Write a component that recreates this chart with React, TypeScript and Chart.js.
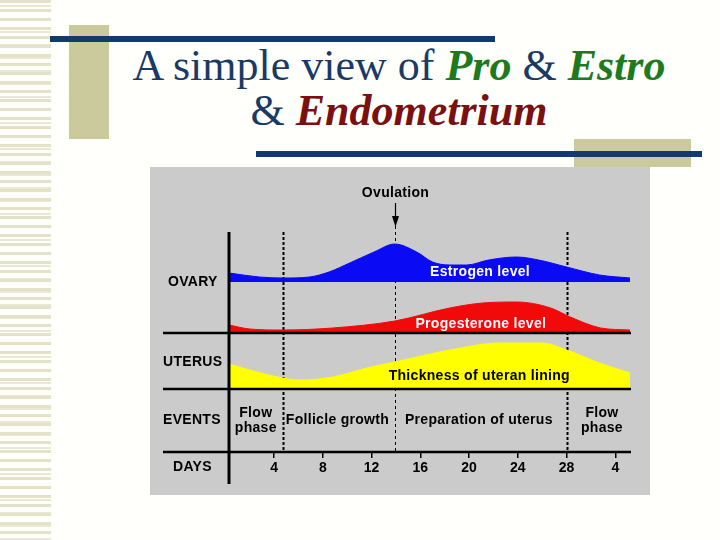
import React, { useEffect, useRef } from "react";
import { Chart, registerables } from "chart.js";

Chart.register(...registerables);

// ---- data (days of cycle, relative levels) ----
const ESTROGEN_DAYS = [0.3, 2.8, 4.7, 6.9, 8.5, 10.2, 12.2, 13.9, 15.7, 17, 18.4, 19.8, 21.6, 23.9, 25.7, 28, 30.7, 33.2];
const ESTROGEN_LEVEL = [9, 5, 4, 5, 10, 19, 30, 38, 30, 20, 17, 17, 22, 25, 22, 15, 7, 4];

const PROGESTERONE_DAYS = [0.3, 2, 4.7, 8.8, 13.9, 18.4, 21.1, 23.9, 26.7, 28.3, 30.8, 33.2];
const PROGESTERONE_LEVEL = [8, 4, 3, 5, 12, 25, 30, 31, 25, 16, 5, 3];

const LINING_DAYS = [0.3, 2, 4.7, 6.1, 8.8, 11.6, 13.9, 18.4, 22.5, 26, 28, 30.7, 33.2];
const LINING_THICKNESS = [25, 19, 11, 9, 12, 21, 27, 39, 46, 46, 39, 26, 16];

const DAY_TICKS = [4, 8, 12, 16, 20, 24, 28, 32];
const DAY_LABELS = ["4", "8", "12", "16", "20", "24", "28", "4"];

const PHASE_LINES = [4.7, 28];
const OVULATION_DAY = 13.9;

const EVENT_LABELS = [["Flow", "phase"], ["Follicle growth"], ["Preparation of uterus"], ["Flow", "phase"]];
const EVENT_CENTERS = [2.5, 9.2, 20.8, 30.9];

const ROW_LABELS = ["OVARY", "UTERUS", "EVENTS", "DAYS"];
const CURVE_LABELS = ["Estrogen level", "Progesterone level", "Thickness of uteran lining"];
const CURVE_LABEL_DAYS = [16.8, 15.6, 13.4];
const CURVE_LABEL_LEVELS = [10, 9, 13];

const FONT = "'Liberation Sans', Arial, sans-serif";

function pts(xs: number[], ys: number[]) {
  return xs.map((x, i) => ({ x, y: ys[i] }));
}

const hiddenBand = (weight: number, max: number) => ({
  type: "linear" as const,
  position: "right" as const,
  stack: "bands",
  stackWeight: weight,
  min: 0,
  max,
  grid: { display: false },
  border: { display: false },
  ticks: { display: false },
  afterFit: (s: any) => {
    s.width = 0;
  },
});

const slidePlugin = {
  id: "slide",
  beforeDraw(chart: any) {
    const { ctx, width, height } = chart;
    ctx.save();
    ctx.fillStyle = "#cbcbcb";
    ctx.fillRect(0, 0, width, height);
    ctx.restore();
  },
  beforeDatasetsDraw(chart: any) {
    const { ctx, chartArea, scales } = chart;
    const x = scales.x;
    ctx.save();
    ctx.strokeStyle = "#000";
    ctx.lineWidth = 2;
    ctx.setLineDash([3, 2]);
    PHASE_LINES.forEach((d) => {
      const px = Math.round(x.getPixelForValue(d)) + 0.5;
      ctx.beginPath();
      ctx.moveTo(px, chartArea.top);
      ctx.lineTo(px, chartArea.bottom);
      ctx.stroke();
    });
    ctx.lineWidth = 1;
    ctx.setLineDash([3, 3]);
    const ox = Math.round(x.getPixelForValue(OVULATION_DAY)) + 0.5;
    ctx.beginPath();
    ctx.moveTo(ox, chartArea.top - 6);
    ctx.lineTo(ox, chartArea.bottom);
    ctx.stroke();
    ctx.restore();
  },
  afterDatasetsDraw(chart: any) {
    const { ctx, chartArea, scales } = chart;
    const x = scales.x;
    const left = 13;
    const right = chartArea.right + 1;
    ctx.save();
    // horizontal separators
    ctx.strokeStyle = "#000";
    ctx.lineWidth = 2.5;
    [scales.yP.bottom, scales.yU.bottom, chartArea.bottom].forEach((y: number) => {
      ctx.beginPath();
      ctx.moveTo(left, y);
      ctx.lineTo(right, y);
      ctx.stroke();
    });
    // vertical axis
    ctx.lineWidth = 3;
    ctx.beginPath();
    ctx.moveTo(chartArea.left, chartArea.top);
    ctx.lineTo(chartArea.left, chartArea.bottom + 32);
    ctx.stroke();

    ctx.font = `bold 14px ${FONT}`;
    try {
      ctx.letterSpacing = "0.3px";
    } catch (e) {}

    // ovulation label + arrow
    const ox = Math.round(x.getPixelForValue(OVULATION_DAY)) + 0.5;
    ctx.fillStyle = "#000";
    ctx.textAlign = "center";
    ctx.textBaseline = "middle";
    ctx.fillText("Ovulation", ox, 26);
    ctx.lineWidth = 1.2;
    ctx.beginPath();
    ctx.moveTo(ox, 36);
    ctx.lineTo(ox, 56);
    ctx.stroke();
    ctx.beginPath();
    ctx.moveTo(ox - 3.5, 49);
    ctx.lineTo(ox + 3.5, 49);
    ctx.lineTo(ox, 60);
    ctx.closePath();
    ctx.fill();

    // curve labels
    ctx.textAlign = "left";
    const bandScales = [scales.yE, scales.yP, scales.yU];
    const colors = ["#ffffff", "#ffffff", "#000000"];
    CURVE_LABELS.forEach((t, i) => {
      ctx.fillStyle = colors[i];
      ctx.fillText(t, x.getPixelForValue(CURVE_LABEL_DAYS[i]), bandScales[i].getPixelForValue(CURVE_LABEL_LEVELS[i]));
    });

    // row labels
    ctx.fillStyle = "#000";
    ctx.fillText(ROW_LABELS[0], 18, scales.yE.bottom);
    ctx.fillText(ROW_LABELS[1], 13, (scales.yU.top + scales.yU.bottom) / 2 + 1);
    ctx.fillText(ROW_LABELS[2], 13, (scales.yEv.top + scales.yEv.bottom) / 2);
    ctx.fillText(ROW_LABELS[3], 23, chartArea.bottom + 15);

    // events
    ctx.textAlign = "center";
    const evMid = (scales.yEv.top + scales.yEv.bottom) / 2;
    EVENT_LABELS.forEach((lines, i) => {
      const cx = x.getPixelForValue(EVENT_CENTERS[i]);
      if (lines.length === 1) {
        ctx.fillText(lines[0], cx, evMid);
      } else {
        ctx.fillText(lines[0], cx, evMid - 7.5);
        ctx.fillText(lines[1], cx, evMid + 7.5);
      }
    });
    ctx.restore();
  },
};

function CycleChart() {
  const ref = useRef<HTMLCanvasElement | null>(null);
  useEffect(() => {
    if (!ref.current) return;
    const chart = new Chart(ref.current, {
      type: "line",
      data: {
        datasets: [
          {
            label: "Estrogen",
            data: pts(ESTROGEN_DAYS, ESTROGEN_LEVEL),
            yAxisID: "yE",
            borderColor: "#0a0af5",
            backgroundColor: "#0a0af5",
            borderWidth: 1,
            fill: "origin",
            pointRadius: 0,
            cubicInterpolationMode: "monotone",
          },
          {
            label: "Progesterone",
            data: pts(PROGESTERONE_DAYS, PROGESTERONE_LEVEL),
            yAxisID: "yP",
            borderColor: "#f20a0a",
            backgroundColor: "#f20a0a",
            borderWidth: 1,
            fill: "origin",
            pointRadius: 0,
            cubicInterpolationMode: "monotone",
          },
          {
            label: "Lining",
            data: pts(LINING_DAYS, LINING_THICKNESS),
            yAxisID: "yU",
            borderColor: "#ffff00",
            backgroundColor: "#ffff00",
            borderWidth: 1,
            fill: "origin",
            pointRadius: 0,
            cubicInterpolationMode: "monotone",
          },
        ],
      },
      options: {
        animation: false,
        responsive: false,
        events: [],
        layout: { padding: { left: 79, right: 20, top: 65, bottom: 0 } },
        plugins: { legend: { display: false }, tooltip: { enabled: false } },
        scales: {
          x: {
            type: "linear",
            position: "bottom",
            min: 0.3,
            max: 33.2,
            grid: { display: true, drawOnChartArea: false, drawTicks: true, tickLength: 6, color: "#000", lineWidth: 1.5 },
            border: { display: false },
            ticks: {
              color: "#000",
              padding: 2,
              maxRotation: 0,
              autoSkip: false,
              font: { family: FONT, size: 14, weight: "bold" },
              callback: (v: any) => {
                const i = DAY_TICKS.indexOf(Number(v));
                return i >= 0 ? DAY_LABELS[i] : "";
              },
            },
            afterBuildTicks: (s: any) => {
              s.ticks = DAY_TICKS.map((v) => ({ value: v }));
            },
            afterFit: (s: any) => {
              s.height = 43;
            },
          },
          yE: hiddenBand(50, 50),
          yP: hiddenBand(51, 51),
          yU: hiddenBand(56, 56),
          yEv: hiddenBand(63, 63),
        } as any,
      },
      plugins: [slidePlugin],
    } as any);
    return () => chart.destroy();
  }, []);
  return (
    <canvas
      ref={ref}
      width={500}
      height={328}
      style={{ position: "absolute", left: 150, top: 167, width: 500, height: 328 }}
    />
  );
}

export default function App() {
  const navy = "#123a6a";
  return (
    <div style={{ position: "fixed", left: 0, top: 0, width: 720, height: 540, background: "#fffffc", overflow: "hidden" }}>
      <div
        style={{
          position: "absolute",
          left: 0,
          top: 0,
          width: 51,
          height: 540,
          background:
            "repeating-linear-gradient(180deg, #e4e2c9 0 3px, transparent 3px 9px), repeating-linear-gradient(180deg, transparent 0 5px, #eae8d4 5px 7px, transparent 7px 13px)",
        }}
      />
      <div style={{ position: "absolute", left: 69, top: 25, width: 40, height: 114, background: "#cbca9c" }} />
      <div style={{ position: "absolute", left: 50, top: 36, width: 445, height: 6, background: navy }} />
      <div style={{ position: "absolute", left: 574, top: 139, width: 117, height: 28, background: "#cbca9c" }} />
      <div style={{ position: "absolute", left: 256, top: 151, width: 446, height: 6, background: navy }} />
      <div
        style={{
          position: "absolute",
          left: 99,
          top: 43,
          width: 600,
          textAlign: "center",
          fontFamily: "'Liberation Serif', 'Times New Roman', serif",
          fontSize: 44,
          lineHeight: "45px",
          color: "#1a3a66",
          whiteSpace: "nowrap",
        }}
      >
        A simple view of <b style={{ fontStyle: "italic", color: "#1e7a1e" }}>Pro</b> &amp;{" "}
        <b style={{ fontStyle: "italic", color: "#1e7a1e" }}>Estro</b>
        <br />
        &amp; <b style={{ fontStyle: "italic", color: "#7a1010" }}>Endometrium</b>
      </div>
      <CycleChart />
    </div>
  );
}
